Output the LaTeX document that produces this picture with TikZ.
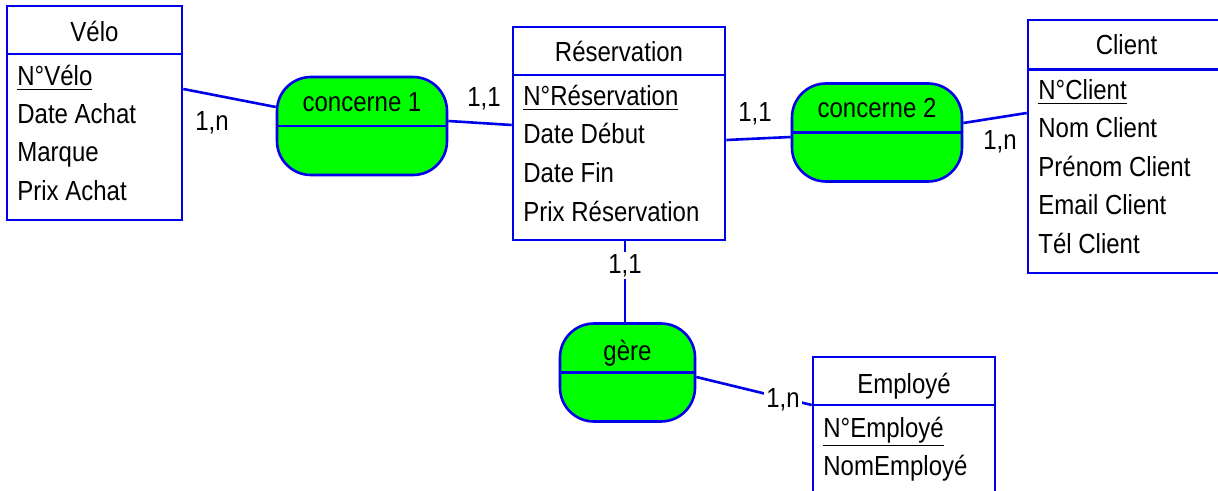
\documentclass[tikz,border=0pt]{standalone}
\usepackage{fontspec}
\setmainfont{Liberation Sans}
\usetikzlibrary{calc}
\definecolor{mcdblue}{RGB}{0,0,235}
\definecolor{mcdgreen}{RGB}{0,255,0}
\newcommand{\tall}[1]{\scalebox{1}[1.15]{#1}}

\begin{document}
\begin{tikzpicture}[x=0.5pt,y=-0.5pt,
  entity/.style={rectangle,draw=mcdblue,line width=1.3pt,fill=white,inner sep=0pt},
  assoc/.style={rectangle,draw=mcdblue,line width=1.3pt,fill=mcdgreen,rounded corners=17pt,inner sep=0pt,minimum height=49pt},
  link/.style={draw=mcdblue,line width=1.3pt},
  txt/.style={inner sep=0pt,anchor=base,font=\fontsize{12}{14}\selectfont},
  attr/.style={txt,anchor=base west},
  card/.style={txt,fill=white,inner sep=1pt}]
          \useasboundingbox (0,0) rectangle (1218,491);
          \clip (0,0) rectangle (1218,491);

          % entites
          \node[entity,minimum width=87.5pt,minimum height=107pt] (velo) at (94.5,113) {};
          \draw[link] (velo.west |- 0,54) -- (velo.east |- 0,54);
          \node[txt] (velot) at (94.5,42) {\tall{Vélo}};
          \node[attr] (velo1) at (17,86) {\tall{\underline{N°Vélo}}};
          \node[attr] (velo2) at (17,124) {\tall{Date Achat}};
          \node[attr] (velo3) at (17,162) {\tall{Marque}};
          \node[attr] (velo4) at (17,201) {\tall{Prix Achat}};

          \node[entity,minimum width=106pt,minimum height=106.5pt] (resa) at (619,133.5) {};
          \draw[link] (resa.west |- 0,75) -- (resa.east |- 0,75);
          \node[txt] (resat) at (619,62) {\tall{Réservation}};
          \node[attr] (resa1) at (523,106) {\tall{\underline{N°Réservation}}};
          \node[attr] (resa2) at (523,144) {\tall{Date Début}};
          \node[attr] (resa3) at (523,183) {\tall{Date Fin}};
          \node[attr] (resa4) at (523,222) {\tall{Prix Réservation}};

          \node[entity,minimum width=98.5pt,minimum height=126.5pt] (client) at (1126.5,146.5) {};
          \draw[link] (client.west |- 0,69.5) -- (client.east |- 0,69.5);
          \node[txt] (clientt) at (1126.5,55) {\tall{Client}};
          \node[attr] (client1) at (1038,100) {\tall{\underline{N°Client}}};
          \node[attr] (client2) at (1038,138) {\tall{Nom Client}};
          \node[attr] (client3) at (1038,177) {\tall{Prénom Client}};
          \node[attr] (client4) at (1038,215) {\tall{Email Client}};
          \node[attr] (client5) at (1038,254) {\tall{Tél Client}};

          \node[entity,minimum width=91pt,minimum height=81.5pt] (emp) at (904,438.5) {};
          \draw[link] (emp.west |- 0,405) -- (emp.east |- 0,405);
          \node[txt] (empt) at (904,393) {\tall{Employé}};
          \node[attr] (emp1) at (823,437) {\tall{\underline{N°Employé}}};
          \node[attr] (emp2) at (823,475) {\tall{NomEmployé}};

          % associations
          \node[assoc,minimum width=85pt] (c1) at (362,126) {};
          \draw[link] (c1.west) -- (c1.east);
          \node[txt] (c1t) at (362,112) {\tall{concerne 1}};

          \node[assoc,minimum width=85pt] (c2) at (877,132.5) {};
          \draw[link] (c2.west) -- (c2.east);
          \node[txt] (c2t) at (877,118) {\tall{concerne 2}};

          \node[assoc,minimum width=67.5pt] (gere) at (627.5,372.5) {};
          \draw[link] (gere.west) -- (gere.east);
          \node[txt] (geret) at (627.5,360) {\tall{gère}};

          % liens
          \draw[link] (velo.east |- 0,89) -- (c1.west |- 0,107);
          \draw[link] (c1.east |- 0,121) -- (resa.west |- 0,125);
          \draw[link] (resa.east |- 0,140) -- (c2.west |- 0,137);
          \draw[link] (c2.east |- 0,123) -- (client.west |- 0,113);
          \draw[link] (resa.south -| 625,0) -- (gere.north -| 625,0);
          \draw[link] (gere.east |- 0,377) -- (emp.west |- 0,405);

          % cardinalites
          \node[txt] (k1) at (212,131) {\tall{1,n}};
          \node[txt] (k2) at (484,107) {\tall{1,1}};
          \node[txt] (k3) at (755,122) {\tall{1,1}};
          \node[txt] (k4) at (1000,150) {\tall{1,n}};
          \node[card] (k5) at (625,273) {\tall{1,1}};
          \node[card] (k6) at (783,407) {\tall{1,n}};
        \end{tikzpicture}
\end{document}
